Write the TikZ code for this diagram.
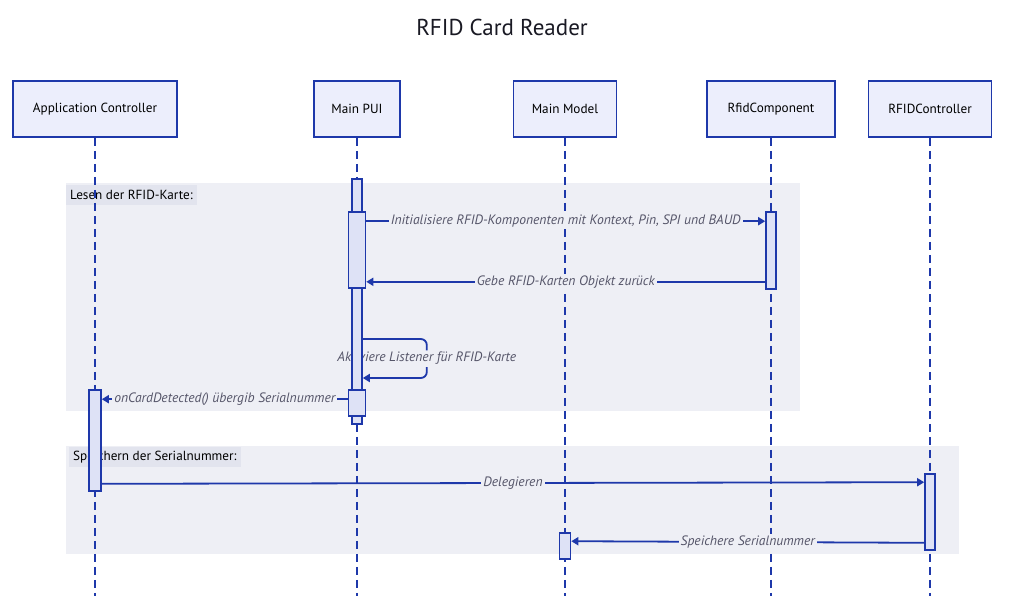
\documentclass[tikz,border=0pt]{standalone}
\usepackage{fontspec}
\setmainfont{PT Sans}
\usetikzlibrary{arrows.meta}
\pgfdeclarelayer{back}
\pgfsetlayers{back,main}
\definecolor{lineblue}{RGB}{30,56,170}
\definecolor{boxfill}{RGB}{236,238,252}
\definecolor{barfill}{RGB}{222,226,246}
\definecolor{regfill}{RGB}{238,239,245}
\definecolor{tagfill}{RGB}{226,228,238}
\definecolor{msgtext}{RGB}{85,85,105}
\definecolor{titletext}{RGB}{25,25,35}

\begin{document}
\begin{tikzpicture}[x=1pt, y=-1pt, every node/.style={font=\fontsize{13.2}{15}\selectfont},
    actor/.style={draw=lineblue, fill=boxfill, line width=1.8pt, minimum height=56pt, inner sep=0pt},
    bar/.style={draw=lineblue, fill=barfill, line width=1.6pt, inner sep=0pt},
    life/.style={draw=lineblue, line width=1.8pt, dash pattern=on 8pt off 5pt},
    region/.style={fill=regfill, inner sep=0pt, anchor=north west},
    tag/.style={fill=tagfill, inner xsep=4pt, minimum height=20pt, anchor=north west},
    msg/.style={draw=lineblue, line width=1.8pt, -{Triangle[length=7pt, width=8pt]}},
    txt/.style={font=\fontsize{13.6}{15}\selectfont\itshape, text=msgtext, fill=regfill, inner sep=2pt}]
    \useasboundingbox (0,0) rectangle (1021,606);

    % Title
    \node[font=\fontsize{23}{26}\selectfont, text=titletext] (title) at (502,27) {RFID Card Reader};

    % Participants
    \node[actor, minimum width=164pt] (ac) at (95,109) {Application Controller};
    \node[actor, minimum width=86pt] (pui) at (357,109) {Main PUI};
    \node[actor, minimum width=103pt] (mm) at (565,109) {Main Model};
    \node[actor, minimum width=128pt] (rc) at (771,109) {RfidComponent};
    \node[actor, minimum width=123pt] (rt) at (930,109) {RFIDController};
    \coordinate (bottom) at (0,596);

    % Activations
    \node[bar, minimum width=10pt, minimum height=245pt] (pu0) at (357,301.5) {};
    \node[bar, minimum width=17pt, minimum height=76pt] (pu1) at (357,250) {};
    \node[bar, minimum width=17pt, minimum height=26pt] (pu2) at (357,403) {};
    \node[bar, minimum width=10pt, minimum height=77pt] (rc1) at (771,250.5) {};
    \node[bar, minimum width=12pt, minimum height=101pt] (ac1) at (95,440.5) {};
    \node[bar, minimum width=10pt, minimum height=76pt] (rt1) at (930,512) {};
    \node[bar, minimum width=11pt, minimum height=26pt] (mm1) at (565,546) {};

    \begin{pgfonlayer}{back}
        % Groups
        \node[region, minimum width=734pt, minimum height=228pt] (r1) at (66,183) {};
        \node[tag] (t1) at ([yshift=-2pt]r1.north west) {Lesen der RFID-Karte:};
        \node[region, minimum width=893pt, minimum height=108pt] (r2) at (66,446) {};
        \node[tag] (t2) at ([xshift=3pt,yshift=-1pt]r2.north west) {Speichern der Serialnummer:};

        % Lifelines
        \foreach \n in {ac,pui,mm,rc,rt}
            \draw[life] (\n.south) -- (\n.south |- bottom);

        % Self call
        \draw[msg, rounded corners=6pt] ([yshift=-37.5pt]pu0.east) -- ++(64,0)
            -- ++(0,39) node[midway, txt] {Aktiviere Listener für RFID-Karte} -- ++(-64,0);
    \end{pgfonlayer}

    % Messages
    \draw[msg] ([yshift=-10pt]pu1.north east) -- ([yshift=-10pt]rc1.north west)
        node[midway, txt] {Initialisiere RFID-Komponenten mit Kontext, Pin, SPI und BAUD};
    \draw[msg] ([yshift=8pt]rc1.south west) -- ([yshift=7pt]pu1.south east)
        node[midway, txt] {Gebe RFID-Karten Objekt zurück};
    \draw[msg] ([yshift=-10pt]pu2.north west) -- ([yshift=-10pt]ac1.north east)
        node[midway, txt] {onCardDetected() übergib Serialnummer};
    \draw[msg] ([yshift=8pt]ac1.south east) -- ([yshift=-9pt]rt1.north west)
        node[midway, txt] {Delegieren};
    \draw[msg] ([yshift=8pt]rt1.south west) -- ([yshift=-9pt]mm1.north east)
        node[midway, txt] {Speichere Serialnummer};
\end{tikzpicture}
\end{document}
